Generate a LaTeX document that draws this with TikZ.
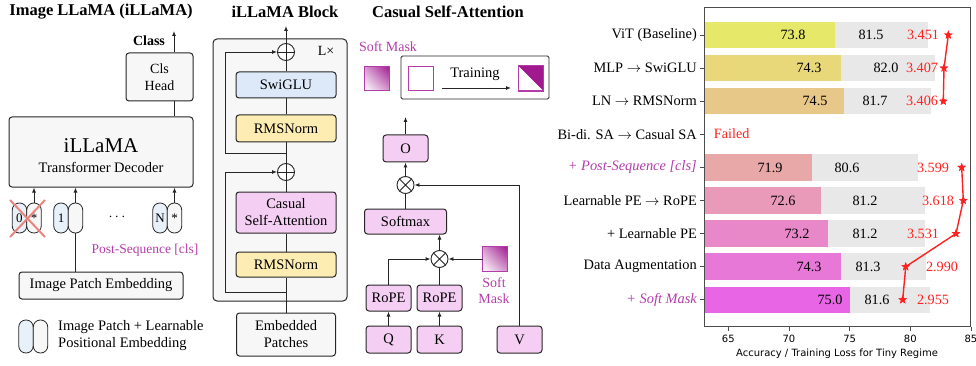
\documentclass[tikz,border=0pt]{standalone}
\usepackage{fontspec}
\setmainfont{Liberation Serif}
\newfontfamily\sansf{DejaVu Sans}
\usetikzlibrary{arrows.meta,shapes.geometric,shadings}
\newcommand\fsz[2]{\fontsize{#1pt}{#2pt}\selectfont}
\newcommand\lowast{\raisebox{-3pt}{*}}
\definecolor{pinkf}{HTML}{F5CFF3}
\definecolor{yelf}{HTML}{FDEDB2}
\definecolor{bluef}{HTML}{DDE9F8}
\definecolor{grayf}{HTML}{F7F7F7}
\definecolor{mag}{HTML}{B43CAA}
\definecolor{magd}{HTML}{A0198F}
\definecolor{xred}{HTML}{E8857F}
\definecolor{pillb}{HTML}{E8F0FA}
\definecolor{c0}{HTML}{E6E86A}
\definecolor{c1}{HTML}{E8D87A}
\definecolor{c2}{HTML}{E8C888}
\definecolor{c4}{HTML}{E8A8A8}
\definecolor{c5}{HTML}{E89AB8}
\definecolor{c6}{HTML}{E888C8}
\definecolor{c7}{HTML}{E878D8}
\definecolor{c8}{HTML}{E866E6}
\definecolor{barg}{HTML}{E8E8E8}
\definecolor{lred}{HTML}{FF2020}
\tikzset{
  box/.style={draw=black!85, line width=1pt, rounded corners=3pt, inner sep=0pt, align=center, font=\fsz{14.5}{17}},
  pill/.style={draw=black!85, line width=0.8pt, rounded corners=7pt, inner sep=0pt, minimum width=14.5pt, minimum height=30pt, font=\fsz{13}{15}},
  opc/.style={draw=black!85, line width=0.9pt, circle, inner sep=0pt, minimum size=17pt, fill=white},
  conn/.style={line width=0.9pt, draw=black!85},
  arr/.style={conn, -{Latex[length=5pt,width=4pt]}},
  ttl/.style={font=\fsz{16.5}{19}\bfseries, inner sep=0pt},
  txt/.style={font=\fsz{14.5}{17}, inner sep=0pt},
  magtxt/.style={font=\fsz{13.5}{16}, text=mag, inner sep=0pt, align=center},
  ylab/.style={font=\fsz{14.4}{17}, inner sep=0pt, anchor=east},
  bnum/.style={font=\fsz{14.2}{17}, inner sep=0pt},
  rnum/.style={font=\fsz{14.2}{17}, inner sep=0pt, text=lred},
  starm/.style={star, star points=5, star point ratio=2.4, fill=lred, inner sep=0pt, minimum size=9pt},
  grad/.style={lower left=white, upper right=magd, upper left=magd!45, lower right=magd!45},
}
\begin{document}
\begin{tikzpicture}[x=1pt,y=-1pt]
\useasboundingbox (0,0) rectangle (976,366);
% ---------------- Left panel ----------------
\node[ttl] (t1) at (101,12) {Image LLaMA (iLLaMA)};
\node[box, fill=grayf, minimum width=67pt, minimum height=48pt, font=\fsz{14}{17}] (cls) at (159.5,77) {Cls\\Head};
\node[font=\fsz{14}{17}\bfseries, inner sep=0pt] (classlab) at (149,41) {Class};
\coordinate (clsout) at (174,31);
\draw[arr] (cls.north -| clsout) -- (clsout);
\node[box, fill=grayf, minimum width=184pt, minimum height=70pt] (dec) at (101,152) {};
\node[font=\fsz{21}{24}, inner sep=0pt] (declab1) at (101,146) {iLLaMA};
\node[txt] (declab2) at (101,167) {Transformer Decoder};
\draw[conn] (dec.north -| clsout) -- (cls.south -| clsout);
% tokens
\node[pill, fill=pillb] (p0a) at (19.5,218) {0};
\node[pill, fill=grayf] (p0b) at (34,218) {\lowast};
\node[pill, fill=pillb] (p1a) at (61,218) {1};
\node[pill, fill=grayf] (p1b) at (75.5,218) {};
\node[inner sep=0pt, font=\fsz{14}{17}] (dots) at (117,217) {$\cdots$};
\node[pill, fill=pillb] (pNa) at (160,218) {N};
\node[pill, fill=grayf] (pNb) at (174.5,218) {\lowast};
\coordinate (x1) at (10,200); \coordinate (x2) at (45,237);
\coordinate (x3) at (45,200); \coordinate (x4) at (10,237);
\draw[xred, line width=2pt] (x1) -- (x2) (x3) -- (x4);
\draw[arr] (p0b.north) -- (p0b.north |- dec.south);
\draw[arr] (p1b.north) -- (p1b.north |- dec.south);
\draw[arr] (pNb.north) -- (pNb.north |- dec.south);
\node[magtxt] (postseq) at (145,250) {Post-Sequence [cls]};
\node[box, fill=grayf, minimum width=164pt, minimum height=27pt] (ipe) at (101,285.5) {Image Patch Embedding};
\draw[conn] (ipe.north -| p1b) -- (p1b.south);
% legend
\node[pill, fill=pillb, minimum height=33pt] (la) at (26,336.5) {};
\node[pill, fill=grayf, minimum height=33pt] (lb) at (40.5,336.5) {};
\node[txt, anchor=west] (leg1) at (58,327) {Image Patch + Learnable};
\node[txt, anchor=west] (leg2) at (58,344) {Positional Embedding};
% ---------------- Middle panel ----------------
\node[ttl] (t2) at (285,12) {iLLaMA Block};
\node[box, fill=grayf, minimum width=134pt, minimum height=262pt, rounded corners=4pt] (outer) at (280,170) {};
\node[font=\fsz{14}{17}, inner sep=0pt] (lx) at (326,51) {L×};
\node[opc] (plus1) at (286,52) {};
\draw[conn] (plus1.north) -- (plus1.south) (plus1.west) -- (plus1.east);
\node[box, fill=bluef, minimum width=100pt, minimum height=26pt] (swi) at (286,85) {SwiGLU};
\node[box, fill=yelf, minimum width=100pt, minimum height=27pt] (rms1) at (286,128.5) {RMSNorm};
\node[opc] (plus2) at (286,172) {};
\draw[conn] (plus2.north) -- (plus2.south) (plus2.west) -- (plus2.east);
\node[box, fill=pinkf, minimum width=100pt, minimum height=41pt] (csa) at (286,212.5) {Casual\\Self-Attention};
\node[box, fill=yelf, minimum width=100pt, minimum height=25pt] (rms2) at (286,264.5) {RMSNorm};
\node[box, fill=grayf, minimum width=99pt, minimum height=43pt] (emb) at (286,334.5) {Embedded\\Patches};
\coordinate (blockout) at (286,26);
\draw[arr] (plus1.north) -- (blockout);
\draw[conn] (emb.north) -- (rms2.south);
\draw[conn] (rms2.north) -- (csa.south);
\draw[conn] (csa.north) -- (plus2.south);
\draw[conn] (plus2.north) -- (rms1.south);
\draw[conn] (rms1.north) -- (swi.south);
\draw[conn] (swi.north) -- (plus1.south);
\coordinate (r1a) at (286,153); \coordinate (r1b) at (225,153);
\draw[arr] (r1a) -- (r1b) |- (plus1.west);
\coordinate (r2a) at (286,292); \coordinate (r2b) at (225,292);
\draw[arr] (r2a) -- (r2b) |- (plus2.west);
% ---------------- Attention panel ----------------
\node[ttl] (t3) at (448,12) {Casual Self-Attention};
\node[magtxt, font=\fsz{14}{16}] (smlab) at (388,47) {Soft Mask};
\node[minimum size=24pt, inner sep=0pt] (mask1) at (377,78.5) {};
\shade[grad] (mask1.south west) rectangle (mask1.north east);
\draw[mag, line width=0.8pt] (mask1.south west) rectangle (mask1.north east);
\node[draw=black!85, line width=0.9pt, rounded corners=1.5pt, fill=white, minimum width=148pt, minimum height=43pt, inner sep=0pt] (trbox) at (475,77.5) {};
\node[draw=mag, line width=0.8pt, fill=white, minimum size=24.5pt, inner sep=0pt] (sq1) at (421,78.5) {};
\node[txt] (trlab) at (475,74) {Training};
\coordinate (ta) at (442,88); \coordinate (tb) at (511,88);
\draw[conn, -{Latex[length=5pt,width=4pt]}] (ta) -- (tb);
\node[draw=mag, line width=0.8pt, fill=white, minimum size=24.5pt, inner sep=0pt] (sq2) at (531,78.5) {};
\fill[magd] (sq2.north west) -- (sq2.north east) -- (sq2.south east) -- cycle;
\draw[mag, line width=0.8pt] (sq2.north west) rectangle (sq2.south east);
\node[box, fill=pinkf, minimum width=45pt, minimum height=27pt] (ob) at (405.5,148.5) {O};
\coordinate (oout) at (405.5,117);
\draw[arr] (ob.north) -- (oout);
\node[opc] (m1) at (405.5,185) {};
\draw[conn] (m1.north west) -- (m1.south east) (m1.north east) -- (m1.south west);
\draw[arr] (m1.north) -- (ob.south);
\node[box, fill=pinkf, minimum width=82pt, minimum height=25pt] (smx) at (405.5,221.5) {Softmax};
\draw[conn] (smx.north) -- (m1.south);
\node[opc] (m2) at (439.5,259) {};
\draw[conn] (m2.north west) -- (m2.south east) (m2.north east) -- (m2.south west);
\draw[arr] (m2.north) -- (m2.north |- smx.south);
\node[box, fill=pinkf, minimum width=45pt, minimum height=26pt] (rope1) at (388.5,298) {RoPE};
\node[box, fill=pinkf, minimum width=45pt, minimum height=26pt] (rope2) at (439.5,298) {RoPE};
\node[box, fill=pinkf, minimum width=45pt, minimum height=27pt] (qb) at (388.5,339.5) {Q};
\node[box, fill=pinkf, minimum width=45pt, minimum height=27pt] (kb) at (439.5,339.5) {K};
\node[box, fill=pinkf, minimum width=45pt, minimum height=27pt] (vb) at (519.5,339.5) {V};
\draw[arr] (qb.north) -- (rope1.south);
\draw[arr] (kb.north) -- (rope2.south);
\draw[arr] (rope1.north) |- (m2.west);
\draw[conn] (rope2.north) -- (m2.south);
\node[minimum size=24pt, inner sep=0pt] (mask2) at (495,259) {};
\shade[grad] (mask2.south west) rectangle (mask2.north east);
\draw[mag, line width=0.8pt] (mask2.south west) rectangle (mask2.north east);
\draw[arr] (mask2.west) -- (m2.east);
\node[magtxt, font=\fsz{14}{16}] (smlab2) at (494,291) {Soft\\Mask};
\draw[arr] (vb.north) |- (m1.east);
% ---------------- Chart ----------------
\foreach \i/\acc/\tp/\col/\la/\lb/\lc/\loss/\sx in {
 0/73.8/81.5/c0/793/871/923/3.451/948.3,
 1/74.3/82.0/c1/809/886/922/3.407/944,
 2/74.5/81.7/c2/815/875/922/3.406/943.3,
 4/71.9/80.6/c4/770/847/933/3.599/961.7,
 5/72.6/81.2/c5/783/865/938/3.618/963.3,
 6/73.2/81.2/c6/797/865/923/3.531/956,
 7/74.3/81.3/c7/809/868/942/2.990/905.7,
 8/75.0/81.6/c8/830/877/933/2.955/902.7}{
  \pgfmathsetmacro\yc{35+33.1*\i}
  \fill[barg] (704,\yc-13.3) rectangle ({12.13*\tp-60.15},\yc+13.3);
  \fill[\col] (704,\yc-13.3) rectangle ({12.13*\acc-60.15},\yc+13.3);
  \node[bnum] (a\i) at (\la,\yc) {\acc};
  \node[bnum] (b\i) at (\lb,\yc) {\tp};
  \node[rnum] (l\i) at (\lc,\yc) {\loss};
  \node[starm] (s\i) at (\sx,\yc) {};
}
\node[rnum] (failed) at (731.7,133.3) {Failed};
\draw[lred, line width=1.4pt] (s0.center) -- (s1.center) -- (s2.center);
\draw[lred, line width=1.4pt] (s4.center) -- (s5.center) -- (s6.center) -- (s7.center) -- (s8.center);
\foreach \i in {0,1,2,4,5,6,7,8} {\node[starm] (ss\i) at (s\i) {};}
\draw[black!70, line width=1pt] (704,7.3) rectangle (970.8,326.7);
\foreach \i/\lab in {0/{ViT (Baseline)},1/{MLP $\rightarrow$ SwiGLU},2/{LN $\rightarrow$ RMSNorm},3/{Bi-di. SA $\rightarrow$ Casual SA},5/{Learnable PE $\rightarrow$ RoPE},6/{+ Learnable PE},7/{Data Augmentation}}{
  \pgfmathsetmacro\yc{35+33.1*\i}
  \draw[black!70, line width=0.8pt] (700,\yc) -- (704,\yc);
  \node[ylab] (y\i) at (697,\yc) {\lab};
}
\foreach \i/\lab in {4/{+ Post-Sequence [cls]},8/{+ Soft Mask}}{
  \pgfmathsetmacro\yc{35+33.1*\i}
  \draw[black!70, line width=0.8pt] (700,\yc) -- (704,\yc);
  \node[ylab, text=mag, font=\fsz{14.4}{17}\itshape] (y\i) at (697,\yc) {\lab};
}
\foreach \v in {65,70,75,80,85}{
  \draw[black!70, line width=0.8pt] ({12.13*\v-60.15},326.7) -- ({12.13*\v-60.15},330.5);
  \node[font=\sansf\fsz{10}{12}, inner sep=0pt] (xt\v) at ({12.13*\v-60.15},339) {\v};
}
\node[font=\sansf\fsz{10}{12}, inner sep=0pt] (xlab) at (837,354) {Accuracy / Training Loss for Tiny Regime};
\end{tikzpicture}
\end{document}
